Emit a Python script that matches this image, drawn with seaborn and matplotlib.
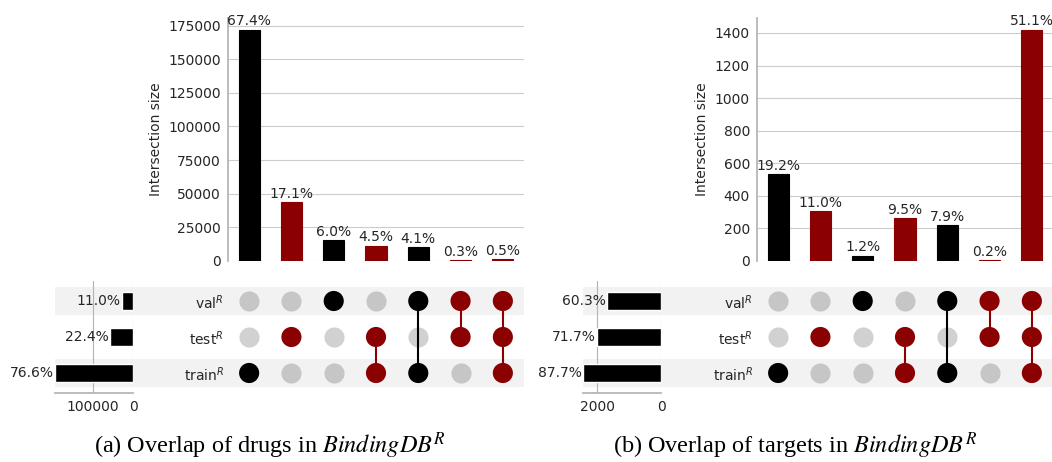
import numpy as np
import pandas as pd
import matplotlib
matplotlib.use("Agg")
import matplotlib.pyplot as plt
from matplotlib.patches import Rectangle
import seaborn as sns

# ---------------- data ----------------
SETS = ["train", "test", "val"]
SET_LABELS = ["train$^R$", "test$^R$", "val$^R$"]

# membership of each intersection column (train, test, val)
MEMBERS = [
    (1, 0, 0),
    (0, 1, 0),
    (0, 0, 1),
    (1, 1, 0),
    (1, 0, 1),
    (0, 1, 1),
    (1, 1, 1),
]

drug_counts = [172000, 43640, 15310, 11480, 10460, 765, 1276]
drug_pct = ["67.4%", "17.1%", "6.0%", "4.5%", "4.1%", "0.3%", "0.5%"]
drug_totals = [195500, 57160, 28070]
drug_totals_pct = ["76.6%", "22.4%", "11.0%"]
drug_yticks = [0, 25000, 50000, 75000, 100000, 125000, 150000, 175000]
drug_xticks = [100000, 0]

target_counts = [534, 306, 33, 264, 220, 6, 1421]
target_pct = ["19.2%", "11.0%", "1.2%", "9.5%", "7.9%", "0.2%", "51.1%"]
target_totals = [2438, 1993, 1676]
target_totals_pct = ["87.7%", "71.7%", "60.3%"]
target_yticks = [0, 200, 400, 600, 800, 1000, 1200, 1400]
target_xticks = [2000, 0]

CAPTIONS = [r"(a) Overlap of drugs in $\mathit{BindingDB}^R$",
            r"(b) Overlap of targets in $\mathit{BindingDB}^R$"]

RED = "#8b0000"
BLACK = "#000000"
SHADE = (0, 0, 0, 0.05)
OFF_DOT = (0, 0, 0, 0.18)

# ---------------- style ----------------
sns.set_theme(style="whitegrid")
plt.rcParams["font.family"] = ["DejaVu Sans"]
plt.rcParams["mathtext.fontset"] = "dejavusans"

W, H = 1052, 462
fig = plt.figure(figsize=(W / 100, H / 100), dpi=100)


def px_axes(x0, y0, x1, y1):
    return fig.add_axes([x0 / W, 1 - y1 / H, (x1 - x0) / W, (y1 - y0) / H])


def col_color(m):
    return RED if m[1] else BLACK


def draw_panel(bx0, bx1, tx0, tx1, counts, pct, totals, totals_pct, yticks, xticks, caption, cap_x):
    n = len(counts)
    colors = [col_color(m) for m in MEMBERS]

    # shading bands (val row and train row)
    for yc in (301, 373):
        fig.add_artist(Rectangle((tx0 / W, 1 - (yc + 14) / H), (bx1 - tx0) / W, 28 / H,
                                 transform=fig.transFigure, facecolor=SHADE, lw=0, zorder=-1))

    # ---- intersection bars ----
    ax = px_axes(bx0, 18, bx1, 261)
    ax.set_facecolor("none")
    df = pd.DataFrame({"col": list(range(n)), "size": counts})
    sns.barplot(data=df, x="col", y="size", hue="col", palette=colors, legend=False,
                width=0.5, saturation=1, ax=ax, zorder=3, linewidth=0.8)
    for patch, c in zip(ax.patches, colors):
        patch.set_edgecolor(c)
    ax.set_xlim(-0.5, n - 0.5)
    ax.set_ylim(0, max(counts) * 1.05)
    ax.set_yticks(yticks)
    ax.set_yticklabels([str(t) for t in yticks], fontsize=10)
    ax.set_xticks([])
    ax.set_xlabel("")
    ax.set_ylabel("Intersection size", fontsize=10)
    ax.grid(axis="x", visible=False)
    ax.grid(axis="y", color=".8", lw=0.8)
    for s in ["top", "right", "bottom"]:
        ax.spines[s].set_visible(False)
    ax.spines["left"].set_color(".7")
    ax.tick_params(axis="y", length=3, color=".7", pad=2)
    for i, (v, p) in enumerate(zip(counts, pct)):
        ax.annotate(p, (i, v), xytext=(0, 1), textcoords="offset points",
                    ha="center", va="bottom", fontsize=10, color=".15")

    # ---- matrix ----
    mx = px_axes(bx0, 283, bx1, 391)
    mx.set_facecolor("none")
    rows = []
    for i, m in enumerate(MEMBERS):
        for r in range(3):
            rows.append({"col": i, "row": r, "on": bool(m[r]), "color": colors[i]})
    mdf = pd.DataFrame(rows)
    off = mdf[~mdf["on"]]
    sns.scatterplot(data=off, x="col", y="row", color=OFF_DOT, s=210, linewidth=0, ax=mx, zorder=2)
    for i, m in enumerate(MEMBERS):
        act = [r for r in range(3) if m[r]]
        if len(act) > 1:
            mx.plot([i, i], [min(act), max(act)], color=colors[i], lw=1.5, zorder=3)
    on = mdf[mdf["on"]]
    sns.scatterplot(data=on, x="col", y="row", hue="col", palette={i: colors[i] for i in range(n)},
                    s=210, linewidth=0, legend=False, ax=mx, zorder=4)
    mx.set_xlim(-0.5, n - 0.5)
    mx.set_ylim(-0.5, 2.5)
    mx.set_xticks([])
    mx.set_yticks([0, 1, 2])
    mx.set_yticklabels(SET_LABELS, fontsize=10)
    mx.tick_params(axis="y", length=0, pad=3)
    mx.set_xlabel("")
    mx.set_ylabel("")
    mx.grid(False)
    for s in mx.spines.values():
        s.set_visible(False)

    # ---- set totals ----
    tx = px_axes(tx0, 281, tx1, 393)
    tx.set_facecolor("none")
    tdf = pd.DataFrame({"set": SETS, "size": totals})
    sns.barplot(data=tdf, y="set", x="size", orient="h", order=SETS, color=BLACK,
                width=0.5, saturation=1, ax=tx, zorder=3)
    tx.set_ylim(-0.56, 2.56)
    tx.set_xlim(max(totals), 0)
    tx.set_xticks(xticks)
    tx.set_xticklabels([str(t) for t in xticks], fontsize=10)
    tx.set_yticks([])
    tx.set_xlabel("")
    tx.set_ylabel("")
    tx.grid(axis="y", visible=False)
    tx.grid(axis="x", color=".7", lw=0.8)
    for s in ["top", "right", "left"]:
        tx.spines[s].set_visible(False)
    tx.spines["bottom"].set_color(".7")
    tx.tick_params(axis="x", length=3, color=".7", pad=2)
    for r, (v, p) in enumerate(zip(totals, totals_pct)):
        tx.annotate(p, (v, r), xytext=(-1, 0), textcoords="offset points",
                    ha="right", va="center", fontsize=10, color=".15")

    fig.text(cap_x / W, 1 - 453 / H, caption, ha="center", va="baseline", fontsize=17.5,
             family="Liberation Serif", color="black",
             math_fontfamily="stix")


draw_panel(228, 524, 55, 133, drug_counts, drug_pct, drug_totals, drug_totals_pct,
           drug_yticks, drug_xticks, CAPTIONS[0], 270)
draw_panel(757, 1053, 583, 661, target_counts, target_pct, target_totals, target_totals_pct,
           target_yticks, target_xticks, CAPTIONS[1], 795)

fig.savefig("out.png", dpi=100)
